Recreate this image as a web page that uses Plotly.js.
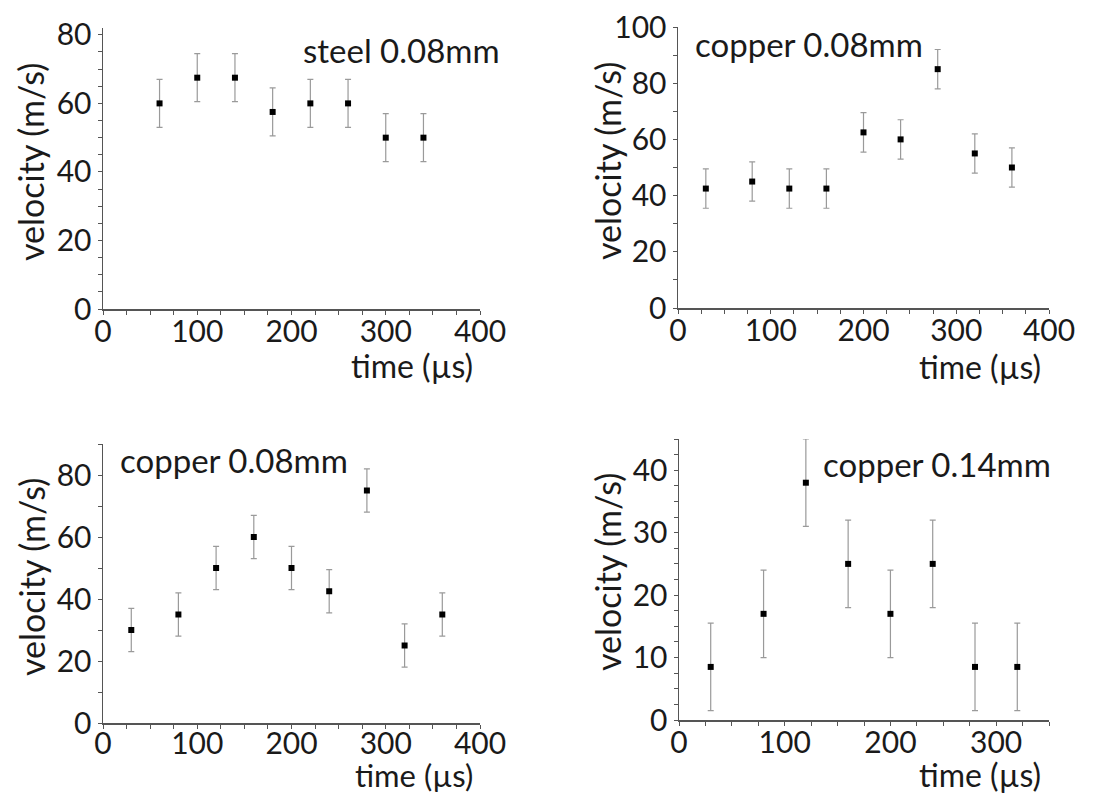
<!DOCTYPE html>
<html>
<head>
<meta charset="utf-8">
<script src="https://cdn.plot.ly/plotly-3.0.1.min.js"></script>
<style>html,body{margin:0;padding:0;background:#fff;}#chart{width:1097px;height:794px;}</style>
</head>
<body>
<div id="chart"></div>
<script>
// ---- data ----
const steelTime = [60, 100, 140, 180, 220, 260, 300, 340];
const steelVel  = [60, 67.5, 67.5, 57.5, 60, 60, 50, 50];
const steelErr  = [7, 7, 7, 7, 7, 7, 7, 7];

const copperATime = [30, 80, 120, 160, 200, 240, 280, 320, 360];
const copperAVel  = [42.5, 45, 42.5, 42.5, 62.5, 60, 85, 55, 50];
const copperAErr  = [7, 7, 7, 7, 7, 7, 7, 7, 7];

const copperBTime = [30, 80, 120, 160, 200, 240, 280, 320, 360];
const copperBVel  = [30, 35, 50, 60, 50, 42.5, 75, 25, 35];
const copperBErr  = [7, 7, 7, 7, 7, 7, 7, 7, 7];

const copperCTime = [30, 80, 120, 160, 200, 240, 280, 320];
const copperCVel  = [8.5, 17, 38, 25, 17, 25, 8.5, 8.5];
const copperCErr  = [7, 7, 7, 7, 7, 7, 7, 7];

const panelLabels = ["steel 0.08mm", "copper 0.08mm", "copper 0.08mm", "copper 0.14mm"];
const xTitle = "time (\u00b5s)";
const yTitle = "velocity (m/s)";

// ---- layout helpers ----
const W = 1097, H = 794;
const px = v => v / W;
const py = v => 1 - v / H;
const FONT = "Lato, 'Open Sans', sans-serif";
const INK = "#1a1a1a";
const AX = "#555555";

function trace(x, y, e, xa, ya) {
  return {
    type: "scatter", mode: "markers", x: x, y: y, xaxis: xa, yaxis: ya,
    marker: {symbol: "square", size: 6, color: "#000"},
    error_y: {type: "data", array: e, visible: true, color: "#9a9a9a", thickness: 1.2, width: 3},
    showlegend: false, hoverinfo: "x+y"
  };
}

function xaxis(dom, range, anchor, standoff) {
  return {
    domain: dom, range: range, anchor: anchor, showgrid: false, zeroline: false,
    showline: true, linecolor: AX, linewidth: 1.5,
    ticks: "outside", ticklen: 4, tickwidth: 1, tickcolor: AX, dtick: 100, tick0: 0,
    ticklabelstandoff: standoff,
    minor: {dtick: 25, ticks: "outside", ticklen: 4, tickwidth: 1, tickcolor: AX, showgrid: false},
    tickfont: {family: FONT, size: 30, color: INK}, fixedrange: true
  };
}
function yaxis(dom, range, dtick, mdtick, anchor) {
  return {
    domain: dom, range: range, anchor: anchor, showgrid: false, zeroline: false,
    showline: true, linecolor: AX, linewidth: 1.5,
    ticks: "outside", ticklen: 4, tickwidth: 1, tickcolor: AX, dtick: dtick, tick0: 0,
    minor: {dtick: mdtick, ticks: "outside", ticklen: 4, tickwidth: 1, tickcolor: AX, showgrid: false},
    tickfont: {family: FONT, size: 30, color: INK}, fixedrange: true
  };
}

const data = [
  trace(steelTime, steelVel, steelErr, "x", "y"),
  trace(copperATime, copperAVel, copperAErr, "x2", "y2"),
  trace(copperBTime, copperBVel, copperBErr, "x3", "y3"),
  trace(copperCTime, copperCVel, copperCErr, "x4", "y4")
];

function txt(text, x, y, xanchor, size) {
  return {text: text, xref: "paper", yref: "paper", x: px(x), y: py(y),
    xanchor: xanchor, yanchor: "middle", showarrow: false,
    font: {family: FONT, size: size, color: INK}};
}
function ytxt(x, y) {
  return {text: yTitle, xref: "paper", yref: "paper", x: px(x), y: py(y),
    xanchor: "center", yanchor: "middle", showarrow: false, textangle: -90,
    font: {family: FONT, size: 34, color: INK}};
}

const layout = {
  width: W, height: H, margin: {l: 0, r: 0, t: 0, b: 0},
  paper_bgcolor: "#fff", plot_bgcolor: "#fff", showlegend: false,
  xaxis:  xaxis([px(103), px(480)], [0, 400], "y", -9),
  yaxis:  yaxis([py(309), py(28)], [0, 82], 20, 5, "x"),
  xaxis2: xaxis([px(678), px(1049)], [0, 400], "y2", -9),
  yaxis2: yaxis([py(308), py(27)], [0, 100], 20, 10, "x2"),
  xaxis3: xaxis([px(103), px(480)], [0, 400], "y3", -11),
  yaxis3: yaxis([py(723), py(444)], [0, 90], 20, 10, "x3"),
  xaxis4: xaxis([px(679), px(1049)], [0, 350], "y4", -9),
  yaxis4: yaxis([py(720), py(439)], [0, 45], 10, 2.5, "x4"),
  annotations: [
    txt(panelLabels[0], 502, 50, "right", 33),
    txt(panelLabels[1], 693, 44, "left", 33),
    txt(panelLabels[2], 118, 460, "left", 33),
    txt(panelLabels[3], 1053, 464, "right", 33),
    txt(xTitle, 475, 365, "right", 32),
    txt(xTitle, 1043, 366, "right", 32),
    txt(xTitle, 475, 775, "right", 31),
    txt(xTitle, 1043, 774, "right", 32),
    ytxt(31, 162), ytxt(607, 161), ytxt(31, 577), ytxt(607, 572)
  ]
};

Plotly.newPlot("chart", data, layout, {staticPlot: true, displayModeBar: false});
</script>
</body>
</html>
